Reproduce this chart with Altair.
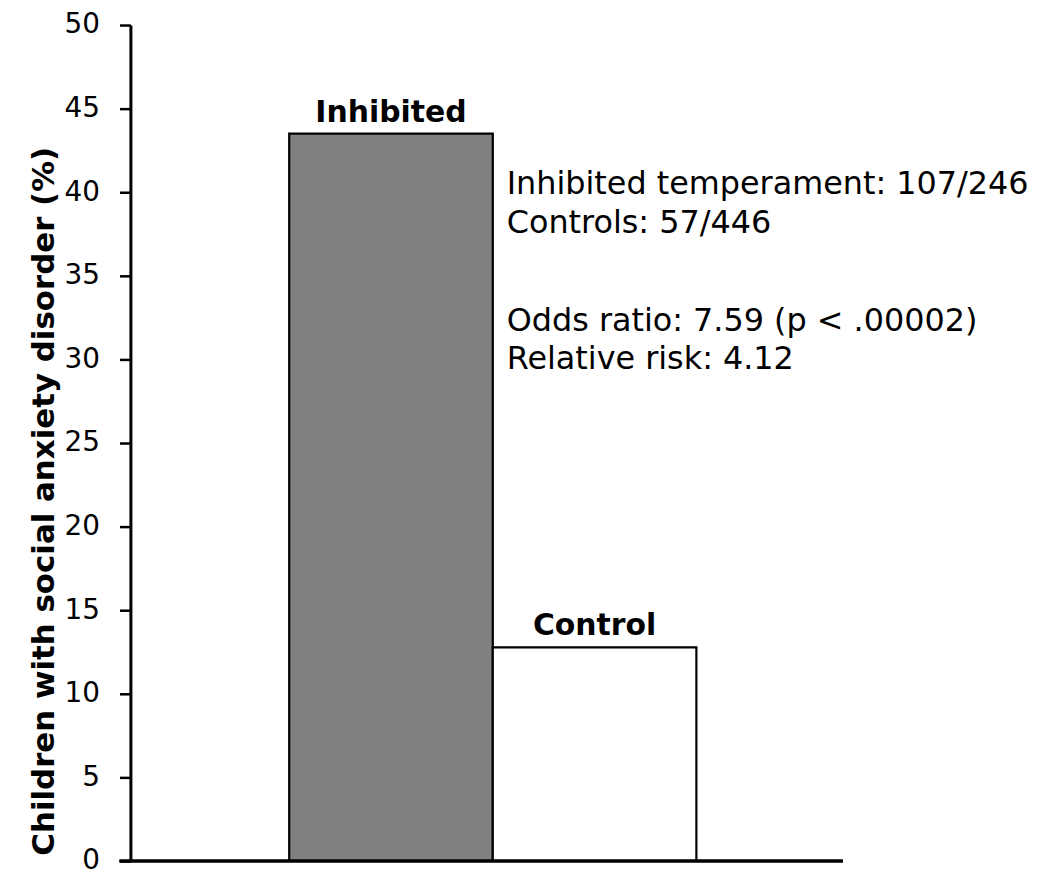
import altair as alt
import pandas as pd

groups = ["Inhibited", "Control"]
percents = [43.5, 12.78]
fills = ["#808080", "#ffffff"]
y_ticks = [0, 5, 10, 15, 20, 25, 30, 35, 40, 45, 50]

note_lines = [
    "Inhibited temperament: 107/246",
    "Controls: 57/446",
    "Odds ratio: 7.59 (p < .00002)",
    "Relative risk: 4.12",
]
note_y = [40.5, 38.15, 32.3, 30.05]

bars_df = pd.DataFrame({"group": groups, "pct": percents, "fill": fills})
notes_df = pd.DataFrame({"group": ["Control"] * len(note_lines), "line": note_lines, "y": note_y})

FONT = "DejaVu Sans"

xscale = alt.Scale(domain=groups, paddingInner=0, paddingOuter=0.75, align=0.52)
yscale = alt.Scale(domain=[0, 50], nice=False)

base = alt.Chart(bars_df)

bars = base.mark_bar(stroke="black", strokeWidth=2.2).encode(
    x=alt.X("group:N", scale=xscale, sort=groups,
            axis=alt.Axis(title=None, labels=False, ticks=False, domain=False)),
    y=alt.Y("pct:Q", scale=yscale,
            axis=alt.Axis(title="Children with social anxiety disorder (%)", values=y_ticks,
                          grid=False, domainColor="black", domainWidth=3,
                          tickColor="black", tickWidth=2.5, tickSize=11,
                          labelFont=FONT, labelFontSize=28, labelColor="black",
                          labelPadding=20, titleFont=FONT, titleFontSize=31,
                          titleFontWeight="bold", titleColor="black", titlePadding=4,
                          titleY=478)),
    fill=alt.Fill("fill:N", scale=None),
)

baseline_rule = alt.Chart(bars_df).mark_rule(color="black", strokeWidth=3).encode(
    x=alt.value(-11), x2=alt.value(716), y=alt.datum(0, scale=yscale)
)

labels = base.mark_text(font=FONT, fontSize=30, fontWeight="bold", baseline="alphabetic",
                        dy=-12, color="black").encode(
    x=alt.X("group:N", scale=xscale, sort=groups),
    y=alt.Y("pct:Q", scale=yscale),
    text="group:N",
)

notes = alt.Chart(notes_df).mark_text(font=FONT, fontSize=32, align="left",
                                      baseline="middle", dx=14, color="black").encode(
    x=alt.X("group:N", scale=xscale, sort=groups, bandPosition=0),
    y=alt.Y("y:Q", scale=yscale),
    text="line:N",
)

chart = alt.layer(bars, baseline_rule, labels, notes).properties(
    width=716, height=840,
    autosize=alt.AutoSizeParams(type="none"),
    padding={"left": 123, "top": 15, "right": 200, "bottom": 22},
    background="white",
).configure_view(stroke=None)

chart.save("out.html", embed_options={"renderer": "svg", "actions": False})
